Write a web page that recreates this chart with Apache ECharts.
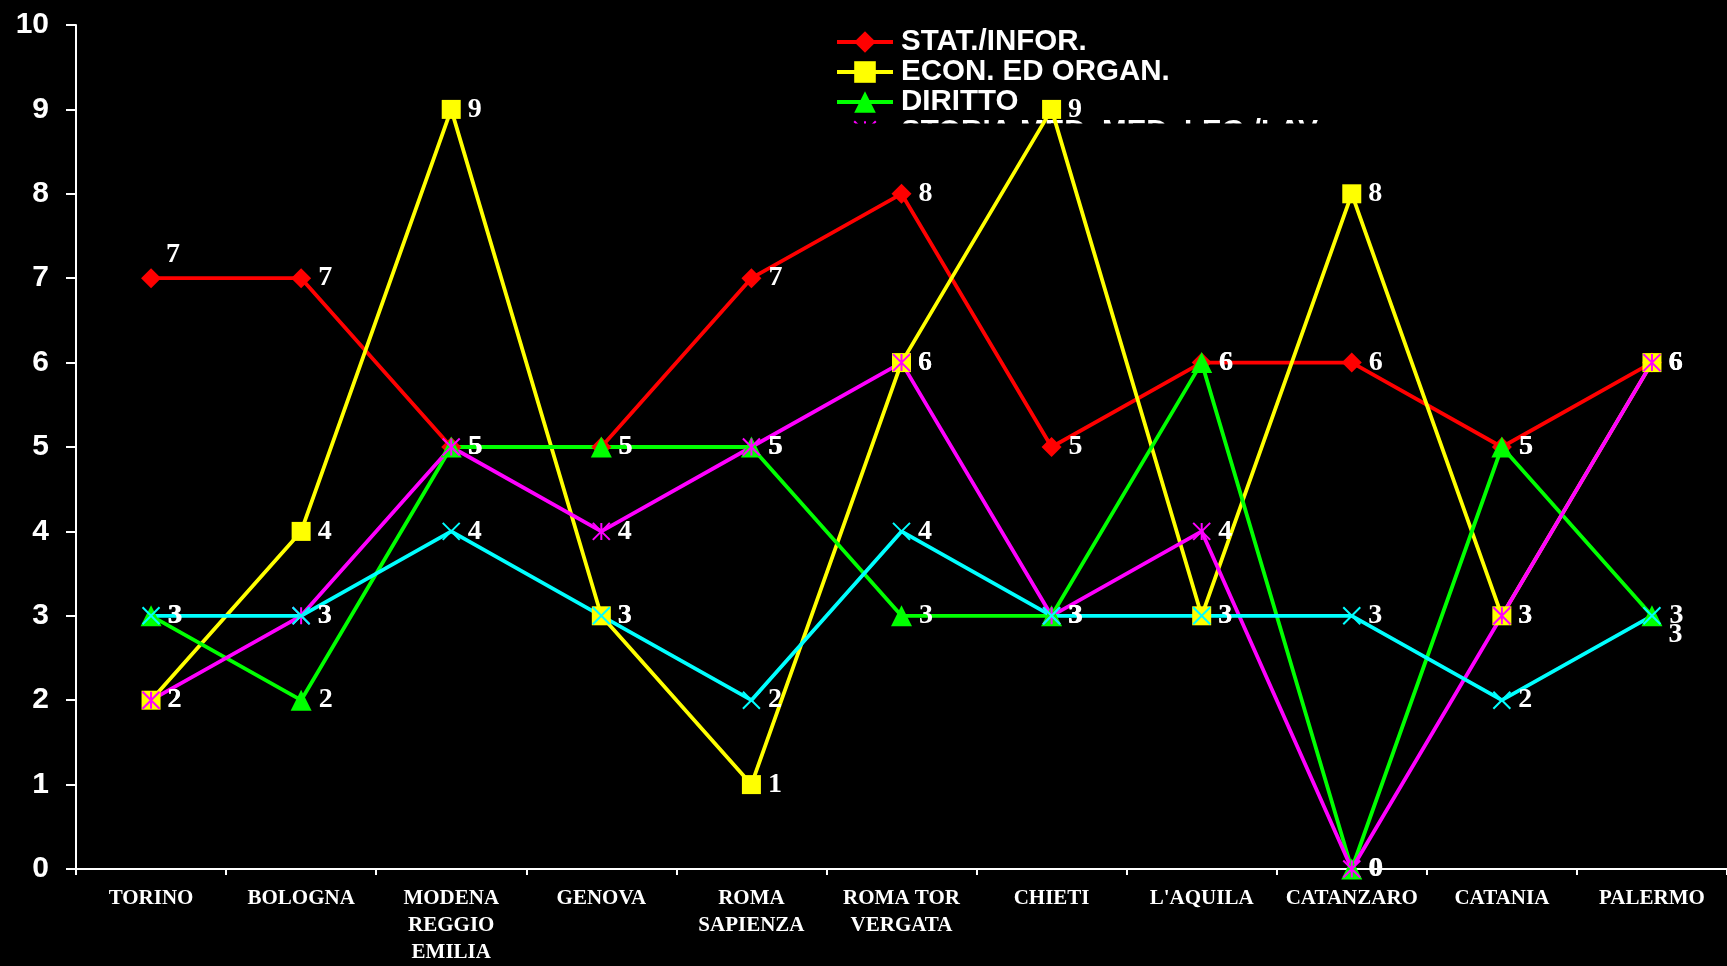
<!DOCTYPE html>
<html>
<head>
<meta charset="utf-8">
<script src="https://cdn.jsdelivr.net/npm/echarts@6/dist/echarts.min.js"></script>
<style>
  html, body { margin: 0; padding: 0; background: #000; }
  #chart { width: 1727px; height: 966px; }
</style>
</head>
<body>
<div id="chart"></div>
<script>
// --- dati ---
const sedi = ['TORINO', 'BOLOGNA', 'MODENA\nREGGIO\nEMILIA', 'GENOVA', 'ROMA\nSAPIENZA',
  'ROMA TOR\nVERGATA', 'CHIETI', "L'AQUILA", 'CATANZARO', 'CATANIA', 'PALERMO'];
const yTicks = [0, 1, 2, 3, 4, 5, 6, 7, 8, 9, 10];

const statInfor = [7, 7, 5, 5, 7, 8, 5, 6, 6, 5, 6];
const econOrgan = [2, 4, 9, 3, 1, 6, 9, 3, 8, 3, 6];
const diritto = [3, 2, 5, 5, 5, 3, 3, 6, 0, 5, 3];
const storiaMed = [2, 3, 5, 4, 5, 6, 3, 4, 0, 3, 6];
const altro = [3, 3, 4, 3, 2, 4, 3, 3, 3, 2, 3];

const serif = '"Liberation Serif", "Times New Roman", serif';
const sans = '"Liberation Sans", Arial, sans-serif';

const chart = echarts.init(document.getElementById('chart'));

// etichette dei punti: bianche, serif, a destra
const lbl = {
  show: true,
  position: 'right',
  distance: 7,
  color: '#fff',
  fontFamily: serif,
  fontWeight: 'bold',
  fontSize: 28
};

function serie(name, values, color, symbol, size, extra) {
  return Object.assign({
    name: name,
    type: 'line',
    data: values.slice(),
    symbol: symbol,
    symbolSize: size,
    lineStyle: { color: color, width: 3.8 },
    itemStyle: { color: color },
    label: lbl,
    z: 3,
    animation: false
  }, extra || {});
}

// qualche etichetta spostata come nell'originale
const redData = statInfor.map((v, i) => i === 0
  ? { value: v, label: { position: 'top', offset: [22, 8] } } : v);
const cyanData = altro.map((v, i) => i === altro.length - 1
  ? { value: v, label: { offset: [0, 19] } } : v);

const option = {
  backgroundColor: '#000',
  grid: { left: 76, right: 0, top: 25, bottom: 93, containLabel: false },
  legend: {
    data: ['STAT./INFOR.', 'ECON. ED ORGAN.', 'DIRITTO', 'STORIA MED. MED. LEG./LAV.'],
    orient: 'vertical',
    left: 835,
    top: 27,
    itemWidth: 56,
    itemHeight: 27,
    itemGap: 0,
    padding: 0,
    z: 1,
    lineStyle: { width: 4 },
    textStyle: {
      color: '#fff', fontFamily: sans, fontWeight: 'bold', fontSize: 29.5,
      lineHeight: 27, padding: [0, 0, 0, 3]
    }
  },
  // la legenda originale è tagliata sotto la quarta voce
  graphic: [{
    type: 'rect',
    z: 2,
    shape: { x: 820, y: 123.5, width: 520, height: 30 },
    style: { fill: '#000' }
  }],
  xAxis: {
    type: 'category',
    data: sedi,
    boundaryGap: true,
    axisLine: { lineStyle: { color: '#fff', width: 2 } },
    axisTick: { show: true, length: 6, lineStyle: { color: '#fff', width: 2 } },
    axisLabel: {
      interval: 0,
      margin: 16,
      color: '#fff',
      fontFamily: serif,
      fontWeight: 'bold',
      fontSize: 21,
      lineHeight: 27
    }
  },
  yAxis: {
    type: 'value',
    min: yTicks[0],
    max: yTicks[yTicks.length - 1],
    interval: 1,
    splitLine: { show: false },
    axisLine: { show: true, lineStyle: { color: '#fff', width: 2 } },
    axisTick: { show: true, length: 10, lineStyle: { color: '#fff', width: 2 } },
    axisLabel: {
      margin: 27,
      color: '#fff',
      fontFamily: sans,
      fontWeight: 'bold',
      fontSize: 30
    }
  },
  series: [
    serie('STAT./INFOR.', statInfor, '#ff0000', 'diamond', 20, { data: redData }),
    serie('ECON. ED ORGAN.', econOrgan, '#ffff00', 'rect', 19),
    serie('DIRITTO', diritto, '#00ff00', 'triangle', 21),
    serie('STORIA MED. MED. LEG./LAV.', storiaMed, '#ff00ff',
      'path://M0,0L10,10M10,0L0,10M5,0L5,10', 17,
      { itemStyle: { color: '#ff00ff', borderColor: '#ff00ff', borderWidth: 2 } }),
    serie('ALTRO', altro, '#00ffff', 'path://M0,0L10,10M10,0L0,10', 17,
      { data: cyanData, itemStyle: { color: '#00ffff', borderColor: '#00ffff', borderWidth: 2 } })
  ]
};

chart.setOption(option);
</script>
</body>
</html>
